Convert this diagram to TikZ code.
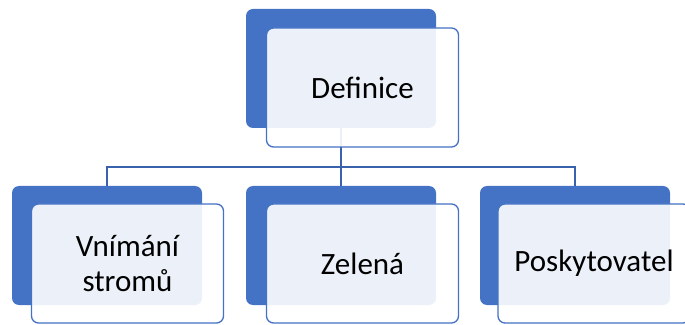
\documentclass[tikz,border=0pt]{standalone}
\usepackage{fontspec}
\setmainfont{Carlito}
\definecolor{boxblue}{HTML}{4472C4}
\definecolor{lineblue}{HTML}{3A62AC}

\begin{document}
\begin{tikzpicture}[x=1pt, y=1pt,
    backbox/.style={rounded corners=7pt, minimum width=190pt, minimum height=119pt, fill=boxblue, inner sep=0pt},
    frontbox/.style={draw=boxblue, line width=1.3pt, rounded corners=7pt, minimum width=192pt, minimum height=119pt,
        fill=white, fill opacity=0.9, text opacity=1, align=center, inner sep=0pt, font=\fontsize{31}{35}\selectfont},
    conn/.style={draw=lineblue, line width=1.3pt}]

\useasboundingbox (0,0) rectangle (685,324);

% zadni modre bloky
\node[backbox] (defback) at (341,255.5) {};
\node[backbox] (vnback) at (107,78.5) {};
\node[backbox] (zeback) at (341,78.5) {};
\node[backbox] (poback) at (575,78.5) {};

% spojnice
\coordinate (bus) at (341,157);
\draw[conn] (defback.south) -- (bus);
\draw[conn] (bus) -| (vnback.north);
\draw[conn] (bus) -- (zeback.north);
\draw[conn] (bus) -| (poback.north);

% predni bloky s textem
\node[frontbox] (def) at (362.5,236.5) {Definice};
\node[frontbox] (vn) at (127.5,60.5) {Vnímání\\stromů};
\node[frontbox] (ze) at (362.5,60.5) {Zelená};
\node[frontbox] (po) at (594,60.5) {Poskytovatel};

\end{tikzpicture}
\end{document}
